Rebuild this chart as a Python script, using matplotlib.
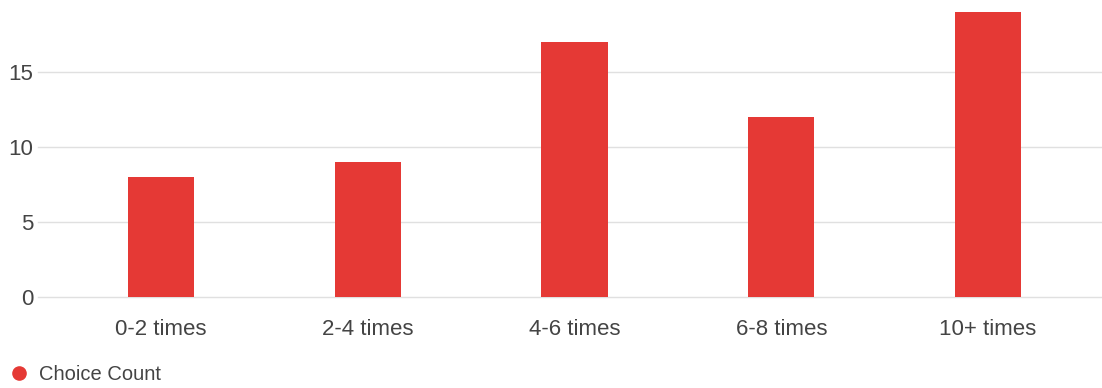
import matplotlib.pyplot as plt
from matplotlib.lines import Line2D

plt.rcParams['font.family'] = ['Liberation Sans', 'DejaVu Sans']

# data ------------------------------------------------
categories = ['0-2 times', '2-4 times', '4-6 times', '6-8 times', '10+ times']
counts = [8, 9, 17, 12, 19]
yticks = [0, 5, 10, 15]

red = '#e53935'
text_col = '#444444'

# figure ----------------------------------------------
W, H = 1102, 388
fig = plt.figure(figsize=(W / 100, H / 100), dpi=100)
ax = fig.add_axes([38 / W, (H - 297) / H, (W - 38) / W, 297 / H])

x = range(len(categories))
ax.bar(x, counts, width=0.32, color=red, zorder=3)

ax.set_xlim(-0.595, 4.551)
ax.set_ylim(0, 19.8)
ax.set_yticks(yticks)
ax.set_xticks(list(x))
ax.set_xticklabels(categories)
ax.grid(axis='y', color='#e0e0e0', linewidth=1, zorder=0)
for gl in ax.get_ygridlines():
    gl.set_clip_on(False)
for s in ax.spines.values():
    s.set_visible(False)
ax.tick_params(axis='y', length=0, pad=3.5, labelsize=16, labelcolor=text_col)
ax.tick_params(axis='x', length=0, pad=16, labelsize=16, labelcolor=text_col)

# legend ----------------------------------------------
handle = Line2D([], [], marker='o', linestyle='', color=red, markersize=9.5)
fig.legend(handles=[handle], labels=['Choice Count'], loc='center left',
           bbox_to_anchor=(-0.001, 1 - 375 / H), frameon=False, fontsize=14.5,
           handletextpad=0.4, borderaxespad=0, labelcolor=text_col,
           handlelength=1.2)

fig.savefig('out.png', dpi=100)
